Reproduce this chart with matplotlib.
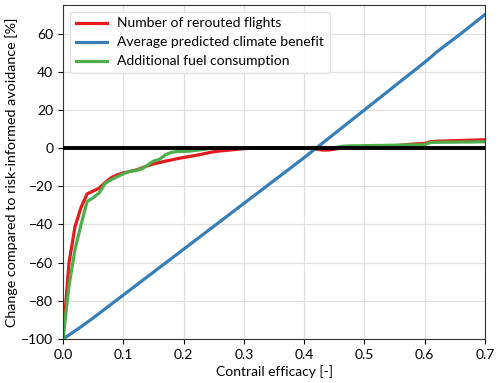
import numpy as np
import matplotlib
matplotlib.use("Agg")
import matplotlib.pyplot as plt

plt.rcParams["font.family"] = ["Lato", "DejaVu Sans"]
plt.rcParams["font.size"] = 10

# contrail efficacy, step 0.01
efficacy = np.round(np.arange(0, 0.701, 0.01), 2)

# change compared to risk-informed avoidance [%]
rerouted_flights = [
    -100, -60, -41, -31, -24, -22.5, -21, -18, -15.5, -14,
    -13, -12.3, -11.6, -10.5, -9.3, -8.3, -7.6, -6.8, -6.2, -5.5,
    -4.9, -4.4, -3.8, -3.2, -2.5, -1.9, -1.5, -1.2, -0.9, -0.6,
    -0.3, -0.1, 0, 0, 0, 0, 0, 0, 0, 0,
    0, 0, -0.5, -1, -1, -0.6, 0, 0.3, 0.5, 0.7,
    0.8, 0.9, 1.0, 1.1, 1.2, 1.3, 1.5, 1.8, 2.1, 2.3,
    2.4, 3.4, 3.6, 3.7, 3.8, 3.9, 4.0, 4.1, 4.2, 4.3,
    4.4,
]
climate_benefit = [
    -100, -97.9, -95.8, -93.6, -91.3, -89, -86.6, -84.2, -81.8, -79.4,
    -77, -74.6, -72.2, -69.8, -67.4, -65, -62.6, -60.2, -57.8, -55.4,
    -53, -50.6, -48.2, -45.8, -43.4, -41, -38.6, -36.2, -33.8, -31.4,
    -29, -26.6, -24.2, -21.8, -19.4, -17, -14.6, -12.2, -9.8, -7.4,
    -5, -2.5, 0, 2.5, 5, 7.5, 10, 12.5, 15, 17.5,
    20, 22.5, 25, 27.5, 30, 32.5, 35, 37.5, 40, 42.5,
    45, 47.6, 50.4, 52.8, 55.2, 57.6, 60, 62.5, 65, 67.5,
    70,
]
fuel_consumption = [
    -100, -72, -53, -40, -28, -26, -23.5, -18.5, -16.5, -15,
    -13.5, -12.2, -11.8, -11, -9, -6.8, -5.9, -3.5, -2.2, -1.8,
    -1.7, -1.6, -1.2, -0.8, -0.4, -0.1, 0, 0, 0, 0,
    0, 0, 0, 0, 0, 0, 0, 0, 0, 0,
    0, 0, 0, 0, 0, 0.2, 0.8, 1.1, 1.2, 1.2,
    1.3, 1.3, 1.4, 1.4, 1.5, 1.5, 1.6, 1.6, 1.7, 1.7,
    1.8, 3.0, 3.0, 3.1, 3.1, 3.1, 3.2, 3.2, 3.2, 3.3,
    3.3,
]

fig = plt.figure(figsize=(5.0, 3.83), dpi=100)
ax = fig.add_axes([0.126, 0.115, 0.844, 0.872])

ax.plot(efficacy, rerouted_flights, color="#e41a1c", lw=2.3, label="Number of rerouted flights")
ax.plot(efficacy, climate_benefit, color="#377eb8", lw=2.3, label="Average predicted climate benefit")
ax.plot(efficacy, fuel_consumption, color="#4daf4a", lw=2.3, label="Additional fuel consumption")
ax.axhline(0, color="black", lw=2.8, zorder=3)

ax.set_xlim(0, 0.7)
ax.set_ylim(-100, 75)
ax.set_yticks(np.arange(-100, 61, 20))
ax.set_xlabel("Contrail efficacy [-]", labelpad=3)
ax.set_ylabel("Change compared to risk-informed avoidance [%]", fontsize=10.3, labelpad=2)
ax.grid(True, color="#e0e0e0", lw=0.9)
ax.set_axisbelow(True)
for s in ax.spines.values():
    s.set_color("#333333")
ax.legend(loc="upper left", framealpha=0.9, edgecolor="#dddddd", handlelength=2.3,
          handletextpad=0.7, borderaxespad=0.5)

plt.savefig("out.png", dpi=100)
plt.close()
